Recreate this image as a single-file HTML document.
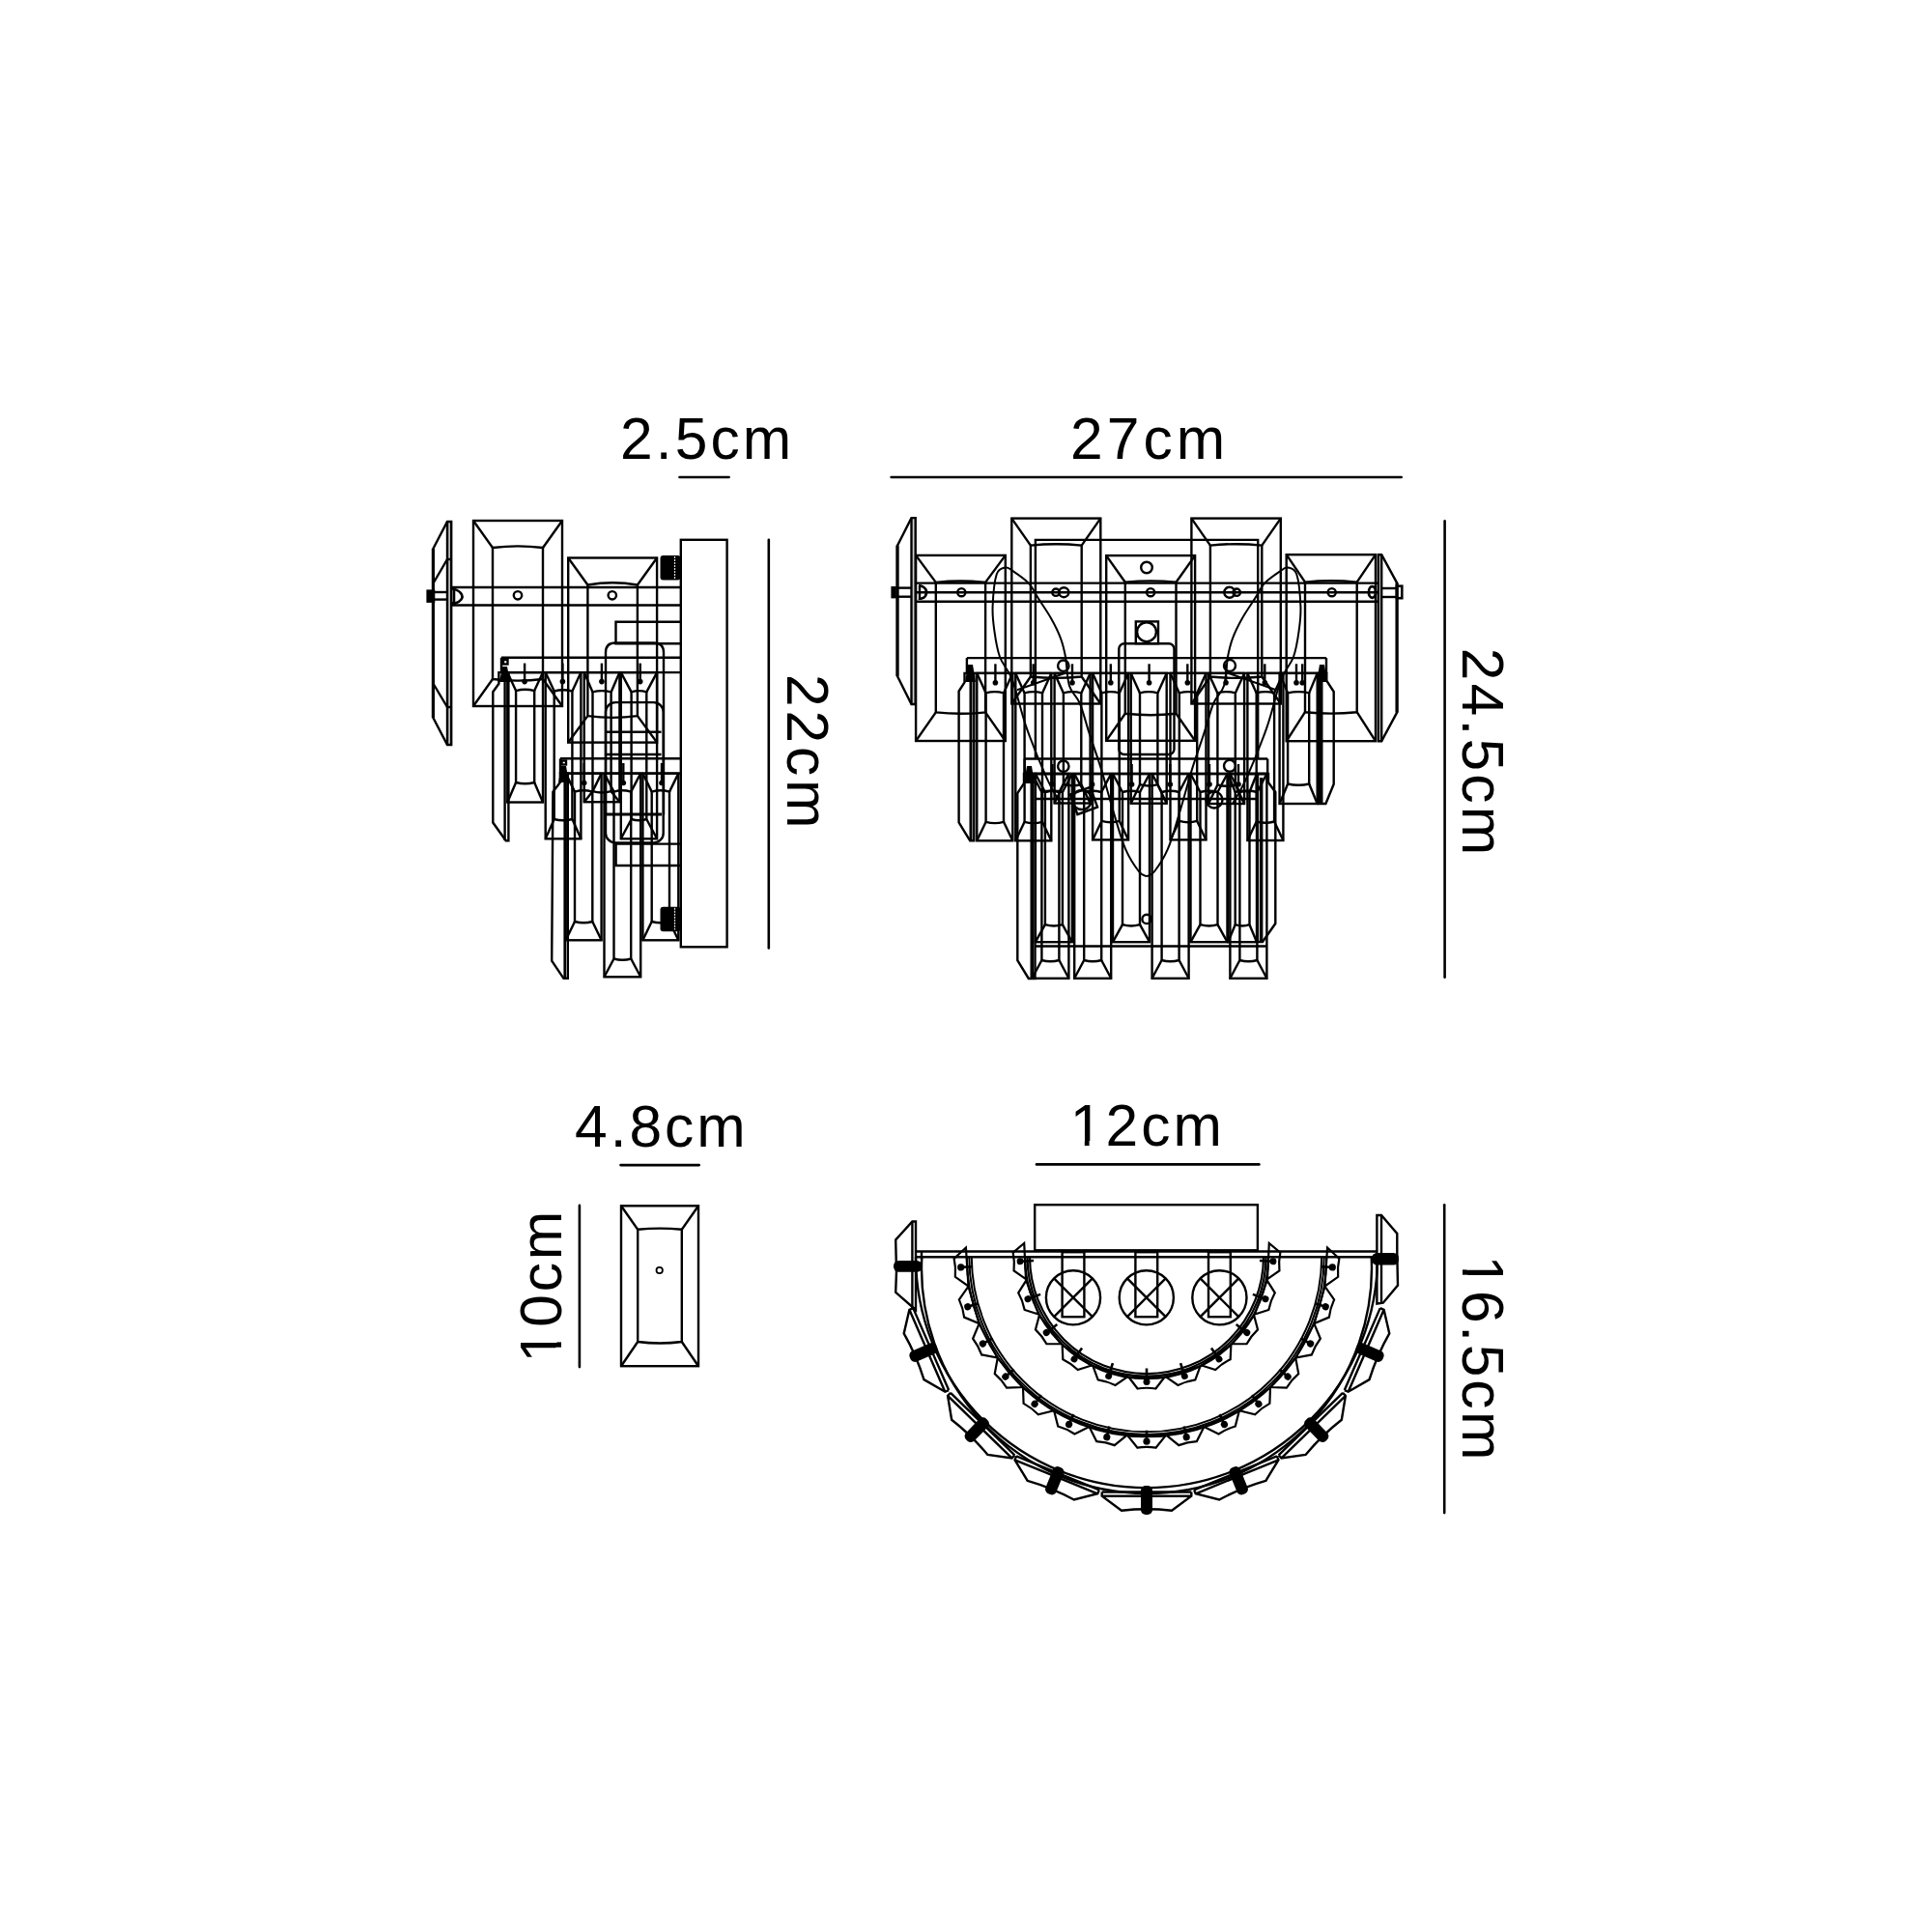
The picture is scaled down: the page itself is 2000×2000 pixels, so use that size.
<!DOCTYPE html>
<html><head><meta charset="utf-8"><style>
html,body{margin:0;padding:0;background:#fff;width:2000px;height:2000px;overflow:hidden}
svg{display:block}
text{font-family:"Liberation Sans",sans-serif;fill:#000}
</style></head><body>
<svg width="2000" height="2000" viewBox="0 0 2000 2000">
<rect x="0" y="0" width="2000" height="2000" fill="#fff"/>
<g fill="none" stroke="#000" stroke-width="2.4" stroke-linejoin="miter" stroke-linecap="butt">
<g class="dim" stroke-width="2.6" stroke-linecap="round">
<line x1="703.5" y1="494.0" x2="754.6" y2="494.0"/>
<line x1="922.6" y1="494.0" x2="1450.7" y2="494.0"/>
<line x1="795.8" y1="558.8" x2="795.8" y2="981.5"/>
<line x1="1495.6" y1="539.4" x2="1495.6" y2="1011.7"/>
<line x1="642.5" y1="1206.1" x2="723.7" y2="1206.1"/>
<line x1="599.9" y1="1247.9" x2="599.9" y2="1415.1"/>
<line x1="1073.0" y1="1205.4" x2="1303.4" y2="1205.4"/>
<line x1="1495.2" y1="1247.2" x2="1495.2" y2="1566.1"/>
</g>
<g class="txt" stroke="none" fill="#000">
<text x="642" y="475" font-size="60.5" letter-spacing="3.1" text-anchor="start">2.5cm</text>
<text x="1108" y="475" font-size="60.5" letter-spacing="4.1" text-anchor="start">27cm</text>
<text x="595" y="1186.5" font-size="60.5" letter-spacing="3.0" text-anchor="start">4.8cm</text>
<text x="1107.7" y="1186" font-size="60.5" letter-spacing="3.1" text-anchor="start">12cm</text>
<text x="814.5" y="698" font-size="60.5" letter-spacing="3.8" text-anchor="start" transform="rotate(90 814.5 698)">22cm</text>
<text x="1513.8" y="670.7" font-size="60.5" letter-spacing="3.2" text-anchor="start" transform="rotate(90 1513.8 670.7)">24.5cm</text>
<text x="1513.7" y="1299.6" font-size="60.5" letter-spacing="2.7" text-anchor="start" transform="rotate(90 1513.7 1299.6)">16.5cm</text>
<text x="581.2" y="1410.4" font-size="60.5" letter-spacing="2.9" text-anchor="start" transform="rotate(-90 581.2 1410.4)">10cm</text>
<rect x="1110.5" y="1181" width="12.3" height="6.5" fill="#fff"/>
<rect x="1127.6" y="1181" width="11.5" height="6.5" fill="#fff"/>
<rect x="575.3" y="1378" width="7" height="11.4" fill="#fff"/>
<rect x="575.3" y="1394.7" width="7" height="12" fill="#fff"/>
<rect x="1512" y="1302" width="7.4" height="12.4" fill="#fff"/>
<rect x="1512" y="1319.7" width="7.4" height="11.5" fill="#fff"/>
</g>
<rect x="643.0" y="1248.3" width="80.0" height="165.9"/>
<path d="M660.2,1389.0 L660.2,1272.8 Q683.0,1270.4 705.8,1272.8 L705.8,1389.0 Q683.0,1392.0 660.2,1389.0Z"/>
<line x1="643.0" y1="1248.3" x2="660.2" y2="1272.8"/>
<line x1="723.0" y1="1248.3" x2="705.8" y2="1272.8"/>
<line x1="643.0" y1="1414.2" x2="660.2" y2="1389.0"/>
<line x1="723.0" y1="1414.2" x2="705.8" y2="1389.0"/>
<circle cx="682.7" cy="1315.0" r="3.2" stroke-width="1.8"/>
<rect x="704.8" y="558.8" width="47.8" height="421.5"/>
<rect x="683.5" y="575.0" width="21" height="25.4" rx="3" fill="#000" stroke="none"/>
<line x1="698.6" y1="576.0" x2="698.6" y2="599.4" stroke="#fff" stroke-width="1.0" stroke-dasharray="2 1"/>
<rect x="683.5" y="938.8" width="21" height="25.4" rx="3" fill="#000" stroke="none"/>
<line x1="698.6" y1="939.8" x2="698.6" y2="963.1999999999999" stroke="#fff" stroke-width="1.0" stroke-dasharray="2 1"/>
<line x1="465.0" y1="608.0" x2="705.0" y2="608.0"/>
<line x1="465.0" y1="626.5" x2="705.0" y2="626.5"/>
<circle cx="536.0" cy="616.3" r="4.2"/>
<circle cx="633.8" cy="616.3" r="4.2"/>
<rect x="441.4" y="610.4" width="8.9" height="13.5" fill="#000" stroke="none"/>
<line x1="450.0" y1="613.0" x2="463.0" y2="613.0"/>
<line x1="450.0" y1="620.6" x2="463.0" y2="620.6"/>
<path d="M467,609.5 C476,610 481,617 477,621 C474,625 469,625 467,624" stroke-width="2.6"/>
<line x1="470.0" y1="610.0" x2="470.0" y2="624.0" stroke-width="2.6"/>
<rect x="463" y="540" width="4.2" height="231" fill="#bbb" stroke="none"/>
<polygon points="463.0,540.0 467.2,540.0 467.2,771.0 463.0,771.0 448.4,743.0 448.4,568.0" stroke-width="2.4"/>
<line x1="463.0" y1="540.0" x2="463.0" y2="771.0"/>
<line x1="448.4" y1="604.0" x2="463.0" y2="579.0"/>
<line x1="448.4" y1="707.5" x2="463.0" y2="732.0"/>
<line x1="463.0" y1="579.0" x2="467.2" y2="579.0"/>
<line x1="463.0" y1="732.0" x2="467.2" y2="732.0"/>
<line x1="448.4" y1="568.0" x2="448.4" y2="743.0" stroke-width="3.2"/>
<rect x="490.0" y="539.0" width="92.0" height="192.0"/>
<path d="M510.0,703.0 L510.0,567.0 Q536.0,563.8 562.0,567.0 L562.0,703.0 Q536.0,706.2 510.0,703.0Z"/>
<line x1="490.0" y1="539.0" x2="510.0" y2="567.0"/>
<line x1="582.0" y1="539.0" x2="562.0" y2="567.0"/>
<line x1="490.0" y1="731.0" x2="510.0" y2="703.0"/>
<line x1="582.0" y1="731.0" x2="562.0" y2="703.0"/>
<rect x="588.2" y="577.5" width="91.9" height="191.1"/>
<path d="M608.4,741.1 L608.4,605.5 Q634.2,600.9 659.9,605.5 L659.9,741.1 Q634.2,744.7 608.4,741.1Z"/>
<line x1="588.2" y1="577.5" x2="608.4" y2="605.5"/>
<line x1="680.1" y1="577.5" x2="659.9" y2="605.5"/>
<line x1="588.2" y1="768.6" x2="608.4" y2="741.1"/>
<line x1="680.1" y1="768.6" x2="659.9" y2="741.1"/>
<line x1="519.0" y1="680.8" x2="705.0" y2="680.8"/>
<line x1="519.0" y1="696.1" x2="705.0" y2="696.1"/>
<line x1="519.0" y1="680.8" x2="519.0" y2="696.1"/>
<rect x="521.0" y="683.0" width="4.5" height="4.5"/>
<polyline points="705.0,643.7 637.5,643.7 637.5,666.2 705.0,666.2"/>
<path d="M627,843.8 L627,675.5 Q627,665.5 637,665.5 L677,665.5 Q687,665.5 687,675.5 L687,843.8"/>
<rect x="627" y="727.1" width="59.7" height="145.3" rx="10"/>
<line x1="627.0" y1="757.8" x2="684.5" y2="757.8"/>
<line x1="627.0" y1="781.0" x2="684.5" y2="781.0"/>
<line x1="627.0" y1="843.0" x2="685.0" y2="843.0" stroke-width="2.8"/>
<polyline points="705.0,873.6 637.6,873.6 637.6,896.0 705.0,896.0"/>
<line x1="580.0" y1="785.3" x2="705.0" y2="785.3"/>
<line x1="580.0" y1="800.6" x2="705.0" y2="800.6"/>
<line x1="580.0" y1="785.3" x2="580.0" y2="800.6"/>
<rect x="581.5" y="787.5" width="4.5" height="4.0"/>
<rect x="521.4" y="700" width="2.4" height="170" fill="#000" stroke="none"/>
<polygon points="510.3,716.2 516.4,707.8 516.4,696.1 526.4,696.1 526.4,870.3 523.7,870.3 510.3,851.5" stroke-width="2.4"/>
<path d="M517,706 L520,690 L525,690 L528,706Z" fill="#000" stroke="none"/>
<rect x="525.3" y="696.1" width="36.7" height="134.4"/>
<path d="M534.1,810.0 L534.1,715.1 Q543.6,712.5 553.2,715.1 L553.2,810.0 Q543.6,812.6 534.1,810.0Z"/>
<line x1="525.3" y1="696.1" x2="534.1" y2="715.1"/>
<line x1="562.0" y1="696.1" x2="553.2" y2="715.1"/>
<line x1="525.3" y1="830.5" x2="534.1" y2="810.0"/>
<line x1="562.0" y1="830.5" x2="553.2" y2="810.0"/>
<rect x="564.7" y="696.1" width="36.7" height="172.2"/>
<path d="M573.7,848.0 L573.7,715.5 Q583.0,712.9 592.4,715.5 L592.4,848.0 Q583.0,850.6 573.7,848.0Z"/>
<line x1="564.7" y1="696.1" x2="573.7" y2="715.5"/>
<line x1="601.4" y1="696.1" x2="592.4" y2="715.5"/>
<line x1="564.7" y1="868.3" x2="573.7" y2="848.0"/>
<line x1="601.4" y1="868.3" x2="592.4" y2="848.0"/>
<rect x="604.7" y="696.1" width="36.7" height="134.1"/>
<path d="M613.5,819.2 L613.5,716.4 Q623.0,713.8 632.6,716.4 L632.6,819.2 Q623.0,821.8 613.5,819.2Z"/>
<line x1="604.7" y1="696.1" x2="613.5" y2="716.4"/>
<line x1="641.4" y1="696.1" x2="632.6" y2="716.4"/>
<line x1="604.7" y1="830.2" x2="613.5" y2="819.2"/>
<line x1="641.4" y1="830.2" x2="632.6" y2="819.2"/>
<rect x="642.8" y="696.1" width="37.3" height="172.2"/>
<path d="M653.6,848.0 L653.6,716.4 Q661.5,713.8 669.3,716.4 L669.3,848.0 Q661.5,850.6 653.6,848.0Z"/>
<line x1="642.8" y1="696.1" x2="653.6" y2="716.4"/>
<line x1="680.1" y1="696.1" x2="669.3" y2="716.4"/>
<line x1="642.8" y1="868.3" x2="653.6" y2="848.0"/>
<line x1="680.1" y1="868.3" x2="669.3" y2="848.0"/>
<line x1="543.1" y1="686.6" x2="543.1" y2="705.6"/>
<circle cx="543.1" cy="705.6" r="2.8" fill="#000" stroke="none"/>
<line x1="582.4" y1="686.6" x2="582.4" y2="705.6"/>
<circle cx="582.4" cy="705.6" r="2.8" fill="#000" stroke="none"/>
<line x1="622.9" y1="686.6" x2="622.9" y2="705.6"/>
<circle cx="622.9" cy="705.6" r="2.8" fill="#000" stroke="none"/>
<line x1="662.7" y1="686.6" x2="662.7" y2="705.6"/>
<circle cx="662.7" cy="705.6" r="2.8" fill="#000" stroke="none"/>
<rect x="583.4" y="805" width="2.6" height="207" fill="#000" stroke="none"/>
<polygon points="572.4,819.8 579.9,809.9 579.9,800.6 587.8,800.6 587.8,1012.8 583.5,1012.8 571.2,994.6" stroke-width="2.4"/>
<path d="M578,810 L581,793 L586,793 L589,810Z" fill="#000" stroke="none"/>
<rect x="585.7" y="800.6" width="36.9" height="172.7"/>
<path d="M595.0,954.0 L595.0,819.6 Q604.2,817.0 613.3,819.6 L613.3,954.0 Q604.2,956.6 595.0,954.0Z"/>
<line x1="585.7" y1="800.6" x2="595.0" y2="819.6"/>
<line x1="622.6" y1="800.6" x2="613.3" y2="819.6"/>
<line x1="585.7" y1="973.3" x2="595.0" y2="954.0"/>
<line x1="622.6" y1="973.3" x2="613.3" y2="954.0"/>
<rect x="625.5" y="800.6" width="37.7" height="210.7"/>
<path d="M635.5,992.5 L635.5,819.6 Q644.4,817.0 653.2,819.6 L653.2,992.5 Q644.4,995.1 635.5,992.5Z"/>
<line x1="625.5" y1="800.6" x2="635.5" y2="819.6"/>
<line x1="663.2" y1="800.6" x2="653.2" y2="819.6"/>
<line x1="625.5" y1="1011.3" x2="635.5" y2="992.5"/>
<line x1="663.2" y1="1011.3" x2="653.2" y2="992.5"/>
<rect x="665.4" y="800.6" width="36.9" height="172.7"/>
<path d="M674.7,954.0 L674.7,819.6 Q683.8,817.0 693.0,819.6 L693.0,954.0 Q683.8,956.6 674.7,954.0Z"/>
<line x1="665.4" y1="800.6" x2="674.7" y2="819.6"/>
<line x1="702.3" y1="800.6" x2="693.0" y2="819.6"/>
<line x1="665.4" y1="973.3" x2="674.7" y2="954.0"/>
<line x1="702.3" y1="973.3" x2="693.0" y2="954.0"/>
<line x1="604.7" y1="790.0" x2="604.7" y2="810.5"/>
<circle cx="604.7" cy="810.5" r="2.8" fill="#000" stroke="none"/>
<line x1="645.3" y1="790.0" x2="645.3" y2="810.5"/>
<circle cx="645.3" cy="810.5" r="2.8" fill="#000" stroke="none"/>
<line x1="685.0" y1="790.0" x2="685.0" y2="810.5"/>
<circle cx="685.0" cy="810.5" r="2.8" fill="#000" stroke="none"/>
<rect x="943.5" y="536.1" width="4.2" height="193" fill="#ccc" stroke="none"/>
<polygon points="943.5,536.1 947.7,536.1 947.7,729.0 943.5,729.0 929.0,700.0 929.0,564.7" stroke-width="2.4"/>
<line x1="943.5" y1="536.1" x2="943.5" y2="729.0"/>
<line x1="929.0" y1="564.7" x2="929.0" y2="700.0" stroke-width="3.2"/>
<rect x="1426.8" y="574.2" width="3.4" height="193" fill="#ccc" stroke="none"/>
<polygon points="1430.2,574.2 1426.8,574.2 1426.8,767.2 1430.2,767.2 1446.1,737.6 1446.1,603.3" stroke-width="2.4"/>
<line x1="1430.2" y1="574.2" x2="1430.2" y2="767.2"/>
<line x1="1446.1" y1="603.3" x2="1446.1" y2="737.6" stroke-width="3.2"/>
<rect x="922.4" y="607" width="5.4" height="12.4" fill="#000" stroke="none"/>
<line x1="927.8" y1="608.6" x2="943.5" y2="608.6"/>
<line x1="927.8" y1="617.7" x2="943.5" y2="617.7"/>
<path d="M951,606 C958,607 961,612 958,617 C956,620 952,620 951,619.4" stroke-width="2.6"/>
<line x1="952.0" y1="606.5" x2="952.0" y2="619.4" stroke-width="2.4"/>
<rect x="1446" y="606.7" width="5.3" height="12.5" fill="none" stroke-width="2.6"/>
<ellipse cx="1420.5" cy="613" rx="3.6" ry="5.8" fill="none" stroke-width="2.8"/>
<line x1="1430.2" y1="609.0" x2="1446.0" y2="609.0"/>
<line x1="1430.2" y1="618.0" x2="1446.0" y2="618.0"/>
<line x1="948.0" y1="603.6" x2="1426.8" y2="603.6"/>
<line x1="948.0" y1="613.2" x2="1426.8" y2="613.2"/>
<line x1="948.0" y1="622.7" x2="1426.8" y2="622.7"/>
<circle cx="995.3" cy="613.2" r="4.1"/>
<circle cx="1093.0" cy="613.2" r="3.7"/>
<circle cx="1101.3" cy="613.2" r="5.0"/>
<circle cx="1191.1" cy="613.2" r="4.1"/>
<circle cx="1272.8" cy="613.2" r="5.5"/>
<circle cx="1280.2" cy="613.2" r="3.7"/>
<circle cx="1378.7" cy="613.2" r="4.1"/>
<rect x="948.1" y="574.9" width="92.7" height="192.1"/>
<path d="M968.8,737.4 L968.8,602.9 Q994.5,600.1 1020.1,602.9 L1020.1,737.4 Q994.5,740.2 968.8,737.4Z"/>
<line x1="948.1" y1="574.9" x2="968.8" y2="602.9"/>
<line x1="1040.8" y1="574.9" x2="1020.1" y2="602.9"/>
<line x1="948.1" y1="767.0" x2="968.8" y2="737.4"/>
<line x1="1040.8" y1="767.0" x2="1020.1" y2="737.4"/>
<rect x="1331.7" y="574.2" width="92.3" height="193.0"/>
<path d="M1351.0,737.2 L1351.0,602.7 Q1377.8,599.9 1404.7,602.7 L1404.7,737.2 Q1377.8,740.0 1351.0,737.2Z"/>
<line x1="1331.7" y1="574.2" x2="1351.0" y2="602.7"/>
<line x1="1424.0" y1="574.2" x2="1404.7" y2="602.7"/>
<line x1="1331.7" y1="767.2" x2="1351.0" y2="737.2"/>
<line x1="1424.0" y1="767.2" x2="1404.7" y2="737.2"/>
<rect x="1047.3" y="536.6" width="92.0" height="191.9"/>
<path d="M1066.9,700.5 L1066.9,564.6 Q1093.3,561.8 1119.7,564.6 L1119.7,700.5 Q1093.3,703.3 1066.9,700.5Z"/>
<line x1="1047.3" y1="536.6" x2="1066.9" y2="564.6"/>
<line x1="1139.3" y1="536.6" x2="1119.7" y2="564.6"/>
<line x1="1047.3" y1="728.5" x2="1066.9" y2="700.5"/>
<line x1="1139.3" y1="728.5" x2="1119.7" y2="700.5"/>
<rect x="1233.4" y="536.6" width="92.4" height="191.9"/>
<path d="M1252.9,700.5 L1252.9,564.6 Q1279.6,561.8 1306.3,564.6 L1306.3,700.5 Q1279.6,703.3 1252.9,700.5Z"/>
<line x1="1233.4" y1="536.6" x2="1252.9" y2="564.6"/>
<line x1="1325.8" y1="536.6" x2="1306.3" y2="564.6"/>
<line x1="1233.4" y1="728.5" x2="1252.9" y2="700.5"/>
<line x1="1325.8" y1="728.5" x2="1306.3" y2="700.5"/>
<polyline points="1071.9,785.5 1071.9,558.9 1302.2,558.9 1302.2,785.5"/>
<rect x="1145.2" y="575.1" width="91.9" height="191.7"/>
<path d="M1164.8,738.8 L1164.8,602.8 Q1191.2,600.0 1217.5,602.8 L1217.5,738.8 Q1191.2,741.6 1164.8,738.8Z"/>
<line x1="1145.2" y1="575.1" x2="1164.8" y2="602.8"/>
<line x1="1237.1" y1="575.1" x2="1217.5" y2="602.8"/>
<line x1="1145.2" y1="766.8" x2="1164.8" y2="738.8"/>
<line x1="1237.1" y1="766.8" x2="1217.5" y2="738.8"/>
<circle cx="1187.0" cy="587.5" r="5.8"/>
<rect x="1175.8" y="643.4" width="23.2" height="22.8"/>
<circle cx="1187.0" cy="654.2" r="9.9"/>
<rect x="1158.3" y="666.2" width="57.2" height="114.8" rx="5.5"/>
<line x1="1000.9" y1="681.1" x2="1373.0" y2="681.1"/>
<line x1="1000.9" y1="696.9" x2="1373.0" y2="696.9"/>
<line x1="1000.9" y1="681.1" x2="1000.9" y2="696.9"/>
<line x1="1373.0" y1="681.1" x2="1373.0" y2="696.9"/>
<circle cx="1100.8" cy="689.2" r="5.7"/>
<circle cx="1273.0" cy="689.0" r="6.0"/>
<rect x="1011.3" y="696.9" width="37.0" height="173.4"/>
<path d="M1020.6,850.8 L1020.6,717.4 Q1029.8,714.8 1039.0,717.4 L1039.0,850.8 Q1029.8,853.4 1020.6,850.8Z"/>
<line x1="1011.3" y1="696.9" x2="1020.6" y2="717.4"/>
<line x1="1048.3" y1="696.9" x2="1039.0" y2="717.4"/>
<line x1="1011.3" y1="870.3" x2="1020.6" y2="850.8"/>
<line x1="1048.3" y1="870.3" x2="1039.0" y2="850.8"/>
<rect x="1051.3" y="696.9" width="37.0" height="173.4"/>
<path d="M1060.6,850.8 L1060.6,717.4 Q1069.8,714.8 1079.0,717.4 L1079.0,850.8 Q1069.8,853.4 1060.6,850.8Z"/>
<line x1="1051.3" y1="696.9" x2="1060.6" y2="717.4"/>
<line x1="1088.3" y1="696.9" x2="1079.0" y2="717.4"/>
<line x1="1051.3" y1="870.3" x2="1060.6" y2="850.8"/>
<line x1="1088.3" y1="870.3" x2="1079.0" y2="850.8"/>
<rect x="1091.6" y="696.9" width="37.0" height="134.6"/>
<path d="M1100.9,812.0 L1100.9,717.4 Q1110.1,714.8 1119.3,717.4 L1119.3,812.0 Q1110.1,814.6 1100.9,812.0Z"/>
<line x1="1091.6" y1="696.9" x2="1100.9" y2="717.4"/>
<line x1="1128.6" y1="696.9" x2="1119.3" y2="717.4"/>
<line x1="1091.6" y1="831.5" x2="1100.9" y2="812.0"/>
<line x1="1128.6" y1="831.5" x2="1119.3" y2="812.0"/>
<rect x="1131.1" y="696.9" width="37.0" height="172.5"/>
<path d="M1140.4,849.9 L1140.4,717.4 Q1149.6,714.8 1158.8,717.4 L1158.8,849.9 Q1149.6,852.5 1140.4,849.9Z"/>
<line x1="1131.1" y1="696.9" x2="1140.4" y2="717.4"/>
<line x1="1168.1" y1="696.9" x2="1158.8" y2="717.4"/>
<line x1="1131.1" y1="869.4" x2="1140.4" y2="849.9"/>
<line x1="1168.1" y1="869.4" x2="1158.8" y2="849.9"/>
<rect x="1170.7" y="696.9" width="37.0" height="134.8"/>
<path d="M1180.0,812.2 L1180.0,717.4 Q1189.2,714.8 1198.4,717.4 L1198.4,812.2 Q1189.2,814.8 1180.0,812.2Z"/>
<line x1="1170.7" y1="696.9" x2="1180.0" y2="717.4"/>
<line x1="1207.7" y1="696.9" x2="1198.4" y2="717.4"/>
<line x1="1170.7" y1="831.7" x2="1180.0" y2="812.2"/>
<line x1="1207.7" y1="831.7" x2="1198.4" y2="812.2"/>
<rect x="1211.5" y="696.9" width="37.0" height="172.5"/>
<path d="M1220.8,849.9 L1220.8,717.4 Q1230.0,714.8 1239.2,717.4 L1239.2,849.9 Q1230.0,852.5 1220.8,849.9Z"/>
<line x1="1211.5" y1="696.9" x2="1220.8" y2="717.4"/>
<line x1="1248.5" y1="696.9" x2="1239.2" y2="717.4"/>
<line x1="1211.5" y1="869.4" x2="1220.8" y2="849.9"/>
<line x1="1248.5" y1="869.4" x2="1239.2" y2="849.9"/>
<rect x="1251.1" y="696.9" width="37.0" height="135.1"/>
<path d="M1260.4,812.5 L1260.4,717.4 Q1269.6,714.8 1278.8,717.4 L1278.8,812.5 Q1269.6,815.1 1260.4,812.5Z"/>
<line x1="1251.1" y1="696.9" x2="1260.4" y2="717.4"/>
<line x1="1288.1" y1="696.9" x2="1278.8" y2="717.4"/>
<line x1="1251.1" y1="832.0" x2="1260.4" y2="812.5"/>
<line x1="1288.1" y1="832.0" x2="1278.8" y2="812.5"/>
<rect x="1291.4" y="696.9" width="37.0" height="173.1"/>
<path d="M1300.7,850.5 L1300.7,717.4 Q1309.9,714.8 1319.1,717.4 L1319.1,850.5 Q1309.9,853.1 1300.7,850.5Z"/>
<line x1="1291.4" y1="696.9" x2="1300.7" y2="717.4"/>
<line x1="1328.4" y1="696.9" x2="1319.1" y2="717.4"/>
<line x1="1291.4" y1="870.0" x2="1300.7" y2="850.5"/>
<line x1="1328.4" y1="870.0" x2="1319.1" y2="850.5"/>
<rect x="1324.6" y="696.9" width="39.1" height="135.1"/>
<path d="M1333.1,811.5 L1333.1,717.4 Q1344.2,714.8 1355.2,717.4 L1355.2,811.5 Q1344.2,814.1 1333.1,811.5Z"/>
<line x1="1324.6" y1="696.9" x2="1333.1" y2="717.4"/>
<line x1="1363.7" y1="696.9" x2="1355.2" y2="717.4"/>
<line x1="1324.6" y1="832.0" x2="1333.1" y2="811.5"/>
<line x1="1363.7" y1="832.0" x2="1355.2" y2="811.5"/>
<line x1="1030.4" y1="687.3" x2="1030.4" y2="706.8"/>
<circle cx="1030.4" cy="706.8" r="2.8" fill="#000" stroke="none"/>
<line x1="1069.7" y1="687.3" x2="1069.7" y2="706.8"/>
<circle cx="1069.7" cy="706.8" r="2.8" fill="#000" stroke="none"/>
<line x1="1110.0" y1="687.3" x2="1110.0" y2="706.8"/>
<circle cx="1110.0" cy="706.8" r="2.8" fill="#000" stroke="none"/>
<line x1="1149.8" y1="687.3" x2="1149.8" y2="706.8"/>
<circle cx="1149.8" cy="706.8" r="2.8" fill="#000" stroke="none"/>
<line x1="1189.6" y1="687.3" x2="1189.6" y2="706.8"/>
<circle cx="1189.6" cy="706.8" r="2.8" fill="#000" stroke="none"/>
<line x1="1229.3" y1="687.3" x2="1229.3" y2="706.8"/>
<circle cx="1229.3" cy="706.8" r="2.8" fill="#000" stroke="none"/>
<line x1="1269.1" y1="687.3" x2="1269.1" y2="706.8"/>
<circle cx="1269.1" cy="706.8" r="2.8" fill="#000" stroke="none"/>
<line x1="1309.3" y1="687.3" x2="1309.3" y2="706.8"/>
<circle cx="1309.3" cy="706.8" r="2.8" fill="#000" stroke="none"/>
<line x1="1342.0" y1="687.3" x2="1342.0" y2="706.8"/>
<circle cx="1342.0" cy="706.8" r="2.8" fill="#000" stroke="none"/>
<line x1="1348.2" y1="687.3" x2="1348.2" y2="706.8"/>
<circle cx="1348.2" cy="706.8" r="2.8" fill="#000" stroke="none"/>
<rect x="1003.5" y="700" width="3" height="170" fill="#000" stroke="none"/>
<polygon points="992.6,715.5 998.5,706.5 998.5,696.9 1008.3,696.9 1008.3,870.3 1004.2,870.3 992.6,851.5" stroke-width="2.4"/>
<path d="M999,706 L1002,688 L1007,688 L1010,706Z" fill="#000" stroke="none"/>
<rect x="1365.5" y="700" width="4" height="132" fill="#000" stroke="none"/>
<polygon points="1380.7,716.0 1373.3,704.6 1373.3,696.9 1364.8,696.9 1364.8,832.0 1372.4,832.0 1380.7,811.8" stroke-width="2.4"/>
<path d="M1363,706 L1366,688 L1371,688 L1374,706Z" fill="#000" stroke="none"/>
<line x1="1060.7" y1="785.5" x2="1312.2" y2="785.5"/>
<line x1="1060.7" y1="801.0" x2="1312.2" y2="801.0"/>
<line x1="1060.7" y1="785.5" x2="1060.7" y2="801.0"/>
<line x1="1312.2" y1="785.5" x2="1312.2" y2="801.0"/>
<circle cx="1100.8" cy="793.2" r="5.7"/>
<circle cx="1273.0" cy="792.8" r="6.0"/>
<line x1="1071.9" y1="827.0" x2="1302.2" y2="827.0"/>
<line x1="1071.0" y1="979.5" x2="1311.0" y2="979.5"/>
<rect x="1071.9" y="801.0" width="38.0" height="174.2"/>
<path d="M1081.9,957.2 L1081.9,820.0 Q1090.9,817.4 1099.9,820.0 L1099.9,957.2 Q1090.9,959.8 1081.9,957.2Z"/>
<line x1="1071.9" y1="801.0" x2="1081.9" y2="820.0"/>
<line x1="1109.9" y1="801.0" x2="1099.9" y2="820.0"/>
<line x1="1071.9" y1="975.2" x2="1081.9" y2="957.2"/>
<line x1="1109.9" y1="975.2" x2="1099.9" y2="957.2"/>
<rect x="1152.0" y="801.0" width="38.0" height="174.2"/>
<path d="M1162.0,957.2 L1162.0,820.0 Q1171.0,817.4 1180.0,820.0 L1180.0,957.2 Q1171.0,959.8 1162.0,957.2Z"/>
<line x1="1152.0" y1="801.0" x2="1162.0" y2="820.0"/>
<line x1="1190.0" y1="801.0" x2="1180.0" y2="820.0"/>
<line x1="1152.0" y1="975.2" x2="1162.0" y2="957.2"/>
<line x1="1190.0" y1="975.2" x2="1180.0" y2="957.2"/>
<rect x="1232.5" y="801.0" width="38.0" height="174.2"/>
<path d="M1242.5,957.2 L1242.5,820.0 Q1251.5,817.4 1260.5,820.0 L1260.5,957.2 Q1251.5,959.8 1242.5,957.2Z"/>
<line x1="1232.5" y1="801.0" x2="1242.5" y2="820.0"/>
<line x1="1270.5" y1="801.0" x2="1260.5" y2="820.0"/>
<line x1="1232.5" y1="975.2" x2="1242.5" y2="957.2"/>
<line x1="1270.5" y1="975.2" x2="1260.5" y2="957.2"/>
<rect x="1271.2" y="801.0" width="29.8" height="174.2"/>
<path d="M1278.7,957.2 L1278.7,820.0 Q1286.1,817.4 1293.5,820.0 L1293.5,957.2 Q1286.1,959.8 1278.7,957.2Z"/>
<line x1="1271.2" y1="801.0" x2="1278.7" y2="820.0"/>
<line x1="1301.0" y1="801.0" x2="1293.5" y2="820.0"/>
<line x1="1271.2" y1="975.2" x2="1278.7" y2="957.2"/>
<line x1="1301.0" y1="975.2" x2="1293.5" y2="957.2"/>
<rect x="1068.4" y="801.0" width="38.0" height="211.8"/>
<path d="M1078.4,994.0 L1078.4,820.0 Q1087.4,817.4 1096.4,820.0 L1096.4,994.0 Q1087.4,996.6 1078.4,994.0Z"/>
<line x1="1068.4" y1="801.0" x2="1078.4" y2="820.0"/>
<line x1="1106.4" y1="801.0" x2="1096.4" y2="820.0"/>
<line x1="1068.4" y1="1012.8" x2="1078.4" y2="994.0"/>
<line x1="1106.4" y1="1012.8" x2="1096.4" y2="994.0"/>
<rect x="1112.2" y="801.0" width="38.0" height="211.8"/>
<path d="M1122.2,994.0 L1122.2,820.0 Q1131.2,817.4 1140.2,820.0 L1140.2,994.0 Q1131.2,996.6 1122.2,994.0Z"/>
<line x1="1112.2" y1="801.0" x2="1122.2" y2="820.0"/>
<line x1="1150.2" y1="801.0" x2="1140.2" y2="820.0"/>
<line x1="1112.2" y1="1012.8" x2="1122.2" y2="994.0"/>
<line x1="1150.2" y1="1012.8" x2="1140.2" y2="994.0"/>
<rect x="1192.6" y="801.0" width="38.0" height="211.8"/>
<path d="M1202.6,994.0 L1202.6,820.0 Q1211.6,817.4 1220.6,820.0 L1220.6,994.0 Q1211.6,996.6 1202.6,994.0Z"/>
<line x1="1192.6" y1="801.0" x2="1202.6" y2="820.0"/>
<line x1="1230.6" y1="801.0" x2="1220.6" y2="820.0"/>
<line x1="1192.6" y1="1012.8" x2="1202.6" y2="994.0"/>
<line x1="1230.6" y1="1012.8" x2="1220.6" y2="994.0"/>
<rect x="1273.4" y="801.0" width="38.0" height="211.8"/>
<path d="M1283.4,994.0 L1283.4,820.0 Q1292.4,817.4 1301.4,820.0 L1301.4,994.0 Q1292.4,996.6 1283.4,994.0Z"/>
<line x1="1273.4" y1="801.0" x2="1283.4" y2="820.0"/>
<line x1="1311.4" y1="801.0" x2="1301.4" y2="820.0"/>
<line x1="1273.4" y1="1012.8" x2="1283.4" y2="994.0"/>
<line x1="1311.4" y1="1012.8" x2="1301.4" y2="994.0"/>
<line x1="1089.5" y1="791.0" x2="1089.5" y2="812.0"/>
<circle cx="1089.5" cy="812.0" r="2.8" fill="#000" stroke="none"/>
<line x1="1130.6" y1="791.0" x2="1130.6" y2="812.0"/>
<circle cx="1130.6" cy="812.0" r="2.8" fill="#000" stroke="none"/>
<line x1="1171.6" y1="791.0" x2="1171.6" y2="812.0"/>
<circle cx="1171.6" cy="812.0" r="2.8" fill="#000" stroke="none"/>
<line x1="1211.3" y1="791.0" x2="1211.3" y2="812.0"/>
<circle cx="1211.3" cy="812.0" r="2.8" fill="#000" stroke="none"/>
<line x1="1252.0" y1="791.0" x2="1252.0" y2="812.0"/>
<circle cx="1252.0" cy="812.0" r="2.8" fill="#000" stroke="none"/>
<line x1="1282.0" y1="791.0" x2="1282.0" y2="812.0"/>
<circle cx="1282.0" cy="812.0" r="2.8" fill="#000" stroke="none"/>
<rect x="1066.5" y="805" width="3.6" height="208" fill="#000" stroke="none"/>
<polygon points="1053.3,821.2 1060.0,811.0 1060.0,801.0 1071.5,801.0 1071.5,1013.0 1064.8,1013.0 1053.3,994.2" stroke-width="2.4"/>
<path d="M1060,811 L1063,793 L1068,793 L1071,811Z" fill="#000" stroke="none"/>
<rect x="1304" y="805" width="3.4" height="170" fill="#000" stroke="none"/>
<polygon points="1320.3,820.0 1313.0,810.0 1313.0,801.0 1302.0,801.0 1302.0,975.0 1307.0,975.0 1320.3,956.0" stroke-width="2.4"/>
<circle cx="1187.1" cy="951.4" r="4.7"/>
<path d="M1098.0,832.0 C1095.5,827.4 1089.1,817.8 1083.2,804.6 C1077.3,791.4 1068.4,769.6 1062.5,752.8 C1056.6,736.0 1052.6,716.1 1048.0,704.0 C1043.4,691.9 1038.1,688.6 1035.0,680.0 C1031.9,671.4 1030.5,661.2 1029.3,652.5 C1028.1,643.8 1027.2,637.4 1027.6,627.7 C1028.0,618.0 1029.5,601.2 1031.7,594.5 C1033.9,587.8 1038.2,588.2 1040.8,587.5 C1043.4,586.8 1043.5,587.7 1047.5,590.4 C1051.5,593.1 1060.2,598.8 1064.8,603.6 C1069.3,608.4 1070.9,613.3 1074.8,619.4 C1078.7,625.5 1084.1,633.1 1088.0,640.0 C1091.9,646.9 1095.5,654.1 1098.0,660.8 C1100.5,667.5 1101.5,671.8 1103.0,680.0 C1104.5,688.2 1104.5,702.0 1107.0,710.0 C1109.5,718.0 1114.3,719.8 1117.8,728.0 C1121.2,736.2 1124.0,748.0 1127.7,759.4 C1131.4,770.8 1135.9,782.9 1140.1,796.6 C1144.3,810.4 1148.9,828.1 1153.1,841.9 C1157.3,855.7 1160.8,869.1 1165.2,879.2 C1169.6,889.3 1175.6,897.9 1179.2,902.5 C1182.8,907.1 1185.8,906.3 1187.1,907.1" stroke-width="2.0"/>
<path d="M1276.0,832.0 C1278.5,827.4 1284.9,817.8 1290.8,804.6 C1296.7,791.4 1305.6,769.6 1311.5,752.8 C1317.4,736.0 1321.4,716.1 1326.0,704.0 C1330.6,691.9 1335.9,688.6 1339.0,680.0 C1342.1,671.4 1343.5,661.2 1344.7,652.5 C1345.9,643.8 1346.8,637.4 1346.4,627.7 C1346.0,618.0 1344.5,601.2 1342.3,594.5 C1340.1,587.8 1335.8,588.2 1333.2,587.5 C1330.6,586.8 1330.5,587.7 1326.5,590.4 C1322.5,593.1 1313.8,598.8 1309.2,603.6 C1304.7,608.4 1303.1,613.3 1299.2,619.4 C1295.3,625.5 1289.9,633.1 1286.0,640.0 C1282.1,646.9 1278.5,654.1 1276.0,660.8 C1273.5,667.5 1272.5,671.8 1271.0,680.0 C1269.5,688.2 1269.5,702.0 1267.0,710.0 C1264.5,718.0 1259.7,719.8 1256.2,728.0 C1252.8,736.2 1250.0,748.0 1246.3,759.4 C1242.6,770.8 1238.1,782.9 1233.9,796.6 C1229.7,810.4 1225.1,828.1 1220.9,841.9 C1216.7,855.7 1213.2,869.1 1208.8,879.2 C1204.4,889.3 1198.4,897.9 1194.8,902.5 C1191.2,907.1 1188.2,906.3 1186.9,907.1" stroke-width="2.0"/>
<g transform="rotate(-20 1122 829)"><rect x="1111" y="818" width="22" height="22"/></g>
<circle cx="1120.0" cy="828.0" r="10.0"/>
<circle cx="1257.0" cy="828.0" r="8.5"/>
<line x1="1052.9" y1="714.2" x2="1102.0" y2="697.0" stroke-width="2.0"/>
<line x1="1321.1" y1="714.2" x2="1272.0" y2="697.0" stroke-width="2.0"/>
<rect x="1071.2" y="1247.2" width="230.7" height="47.1"/>
<line x1="948.0" y1="1295.5" x2="1425.4" y2="1295.5"/>
<line x1="948.0" y1="1301.2" x2="1425.4" y2="1301.2"/>
<line x1="954.0" y1="1295.5" x2="954.0" y2="1304.0"/>
<path d="M948.0,1301.2 A239.0,239.0 0 0 0 1426.0,1301.2"/>
<path d="M954.3,1301.2 A233.0,233.0 0 1 0 1419.7,1301.2"/>
<path d="M1005.8,1301.2 A181.2,181.2 0 0 0 1368.2,1301.2" stroke-width="2.0"/>
<path d="M1003.3,1301.2 A183.7,183.7 0 0 0 1370.7,1301.2" stroke-width="2.0"/>
<path d="M1000.8,1301.2 A186.2,186.2 0 0 0 1373.2,1301.2" stroke-width="2.0"/>
<path d="M1066.0,1301.2 A121.0,121.0 0 0 0 1308.0,1301.2" stroke-width="2.2"/>
<path d="M1063.5,1301.2 A123.5,123.5 0 0 0 1310.5,1301.2" stroke-width="2.2"/>
<path d="M1061.0,1301.2 A126.0,126.0 0 0 0 1313.0,1301.2" stroke-width="2.2"/>
<g transform="translate(1410.3,1396.6) rotate(-66.50)"><path d="M-46.3,0 L46.3,0 M-46.3,4.2 L46.3,4.2 M-46.3,0 L-46.3,4.2 L-26,19.2 Q0,16.4 26,19.2 L46.3,4.2 L46.3,0"/><rect x="-6" y="-6.5" width="12" height="30" rx="5" fill="#000" stroke="none"/></g>
<g transform="translate(1356.8,1474.1) rotate(-44.20)"><path d="M-46.3,0 L46.3,0 M-46.3,4.2 L46.3,4.2 M-46.3,0 L-46.3,4.2 L-26,19.2 Q0,16.4 26,19.2 L46.3,4.2 L46.3,0"/><rect x="-6" y="-6.5" width="12" height="30" rx="5" fill="#000" stroke="none"/></g>
<g transform="translate(1279.0,1524.9) rotate(-22.20)"><path d="M-46.3,0 L46.3,0 M-46.3,4.2 L46.3,4.2 M-46.3,0 L-46.3,4.2 L-26,19.2 Q0,16.4 26,19.2 L46.3,4.2 L46.3,0"/><rect x="-6" y="-6.5" width="12" height="30" rx="5" fill="#000" stroke="none"/></g>
<g transform="translate(1187.0,1544.5) rotate(0.00)"><path d="M-46.3,0 L46.3,0 M-46.3,4.2 L46.3,4.2 M-46.3,0 L-46.3,4.2 L-26,19.2 Q0,16.4 26,19.2 L46.3,4.2 L46.3,0"/><rect x="-6" y="-6.5" width="12" height="30" rx="5" fill="#000" stroke="none"/></g>
<g transform="translate(1095.0,1524.9) rotate(22.20)"><path d="M-46.3,0 L46.3,0 M-46.3,4.2 L46.3,4.2 M-46.3,0 L-46.3,4.2 L-26,19.2 Q0,16.4 26,19.2 L46.3,4.2 L46.3,0"/><rect x="-6" y="-6.5" width="12" height="30" rx="5" fill="#000" stroke="none"/></g>
<g transform="translate(1017.2,1474.1) rotate(44.20)"><path d="M-46.3,0 L46.3,0 M-46.3,4.2 L46.3,4.2 M-46.3,0 L-46.3,4.2 L-26,19.2 Q0,16.4 26,19.2 L46.3,4.2 L46.3,0"/><rect x="-6" y="-6.5" width="12" height="30" rx="5" fill="#000" stroke="none"/></g>
<g transform="translate(963.7,1396.6) rotate(66.50)"><path d="M-46.3,0 L46.3,0 M-46.3,4.2 L46.3,4.2 M-46.3,0 L-46.3,4.2 L-26,19.2 Q0,16.4 26,19.2 L46.3,4.2 L46.3,0"/><rect x="-6" y="-6.5" width="12" height="30" rx="5" fill="#000" stroke="none"/></g>
<g transform="translate(1372.8,1311.5) rotate(-86.31)"><path d="M-20,0 L20,0 L9.5,13 Q0,11.5 -9.5,13 Z" stroke-width="2.2"/><line x1="0" y1="-5" x2="0" y2="6" stroke-width="2.6"/><circle cx="0" cy="6.5" r="3.6" fill="#000" stroke="none"/></g>
<g transform="translate(1366.0,1350.9) rotate(-73.98)"><path d="M-20,0 L20,0 L9.5,13 Q0,11.5 -9.5,13 Z" stroke-width="2.2"/><line x1="0" y1="-5" x2="0" y2="6" stroke-width="2.6"/><circle cx="0" cy="6.5" r="3.6" fill="#000" stroke="none"/></g>
<g transform="translate(1350.9,1387.9) rotate(-61.65)"><path d="M-20,0 L20,0 L9.5,13 Q0,11.5 -9.5,13 Z" stroke-width="2.2"/><line x1="0" y1="-5" x2="0" y2="6" stroke-width="2.6"/><circle cx="0" cy="6.5" r="3.6" fill="#000" stroke="none"/></g>
<g transform="translate(1328.2,1420.9) rotate(-49.32)"><path d="M-20,0 L20,0 L9.5,13 Q0,11.5 -9.5,13 Z" stroke-width="2.2"/><line x1="0" y1="-5" x2="0" y2="6" stroke-width="2.6"/><circle cx="0" cy="6.5" r="3.6" fill="#000" stroke="none"/></g>
<g transform="translate(1299.0,1448.2) rotate(-36.99)"><path d="M-20,0 L20,0 L9.5,13 Q0,11.5 -9.5,13 Z" stroke-width="2.2"/><line x1="0" y1="-5" x2="0" y2="6" stroke-width="2.6"/><circle cx="0" cy="6.5" r="3.6" fill="#000" stroke="none"/></g>
<g transform="translate(1264.7,1468.7) rotate(-24.66)"><path d="M-20,0 L20,0 L9.5,13 Q0,11.5 -9.5,13 Z" stroke-width="2.2"/><line x1="0" y1="-5" x2="0" y2="6" stroke-width="2.6"/><circle cx="0" cy="6.5" r="3.6" fill="#000" stroke="none"/></g>
<g transform="translate(1226.8,1481.4) rotate(-12.33)"><path d="M-20,0 L20,0 L9.5,13 Q0,11.5 -9.5,13 Z" stroke-width="2.2"/><line x1="0" y1="-5" x2="0" y2="6" stroke-width="2.6"/><circle cx="0" cy="6.5" r="3.6" fill="#000" stroke="none"/></g>
<g transform="translate(1187.0,1485.7) rotate(0.00)"><path d="M-20,0 L20,0 L9.5,13 Q0,11.5 -9.5,13 Z" stroke-width="2.2"/><line x1="0" y1="-5" x2="0" y2="6" stroke-width="2.6"/><circle cx="0" cy="6.5" r="3.6" fill="#000" stroke="none"/></g>
<g transform="translate(1147.2,1481.4) rotate(12.33)"><path d="M-20,0 L20,0 L9.5,13 Q0,11.5 -9.5,13 Z" stroke-width="2.2"/><line x1="0" y1="-5" x2="0" y2="6" stroke-width="2.6"/><circle cx="0" cy="6.5" r="3.6" fill="#000" stroke="none"/></g>
<g transform="translate(1109.3,1468.7) rotate(24.66)"><path d="M-20,0 L20,0 L9.5,13 Q0,11.5 -9.5,13 Z" stroke-width="2.2"/><line x1="0" y1="-5" x2="0" y2="6" stroke-width="2.6"/><circle cx="0" cy="6.5" r="3.6" fill="#000" stroke="none"/></g>
<g transform="translate(1075.0,1448.2) rotate(36.99)"><path d="M-20,0 L20,0 L9.5,13 Q0,11.5 -9.5,13 Z" stroke-width="2.2"/><line x1="0" y1="-5" x2="0" y2="6" stroke-width="2.6"/><circle cx="0" cy="6.5" r="3.6" fill="#000" stroke="none"/></g>
<g transform="translate(1045.8,1420.9) rotate(49.32)"><path d="M-20,0 L20,0 L9.5,13 Q0,11.5 -9.5,13 Z" stroke-width="2.2"/><line x1="0" y1="-5" x2="0" y2="6" stroke-width="2.6"/><circle cx="0" cy="6.5" r="3.6" fill="#000" stroke="none"/></g>
<g transform="translate(1023.1,1387.9) rotate(61.65)"><path d="M-20,0 L20,0 L9.5,13 Q0,11.5 -9.5,13 Z" stroke-width="2.2"/><line x1="0" y1="-5" x2="0" y2="6" stroke-width="2.6"/><circle cx="0" cy="6.5" r="3.6" fill="#000" stroke="none"/></g>
<g transform="translate(1008.0,1350.9) rotate(73.98)"><path d="M-20,0 L20,0 L9.5,13 Q0,11.5 -9.5,13 Z" stroke-width="2.2"/><line x1="0" y1="-5" x2="0" y2="6" stroke-width="2.6"/><circle cx="0" cy="6.5" r="3.6" fill="#000" stroke="none"/></g>
<g transform="translate(1001.2,1311.5) rotate(86.31)"><path d="M-20,0 L20,0 L9.5,13 Q0,11.5 -9.5,13 Z" stroke-width="2.2"/><line x1="0" y1="-5" x2="0" y2="6" stroke-width="2.6"/><circle cx="0" cy="6.5" r="3.6" fill="#000" stroke="none"/></g>
<g transform="translate(1312.9,1305.5) rotate(-87.25)"><path d="M-18.6,0 L18.6,0 L9.4,12 Q0,10.5 -9.4,12 Z" stroke-width="2.2"/><line x1="0" y1="-9" x2="0" y2="4" stroke-width="2.6"/><circle cx="0" cy="5" r="3.5" fill="#000" stroke="none"/></g>
<g transform="translate(1305.3,1343.0) rotate(-69.80)"><path d="M-18.6,0 L18.6,0 L9.4,12 Q0,10.5 -9.4,12 Z" stroke-width="2.2"/><line x1="0" y1="-9" x2="0" y2="4" stroke-width="2.6"/><circle cx="0" cy="5" r="3.5" fill="#000" stroke="none"/></g>
<g transform="translate(1286.8,1376.5) rotate(-52.35)"><path d="M-18.6,0 L18.6,0 L9.4,12 Q0,10.5 -9.4,12 Z" stroke-width="2.2"/><line x1="0" y1="-9" x2="0" y2="4" stroke-width="2.6"/><circle cx="0" cy="5" r="3.5" fill="#000" stroke="none"/></g>
<g transform="translate(1259.1,1402.8) rotate(-34.90)"><path d="M-18.6,0 L18.6,0 L9.4,12 Q0,10.5 -9.4,12 Z" stroke-width="2.2"/><line x1="0" y1="-9" x2="0" y2="4" stroke-width="2.6"/><circle cx="0" cy="5" r="3.5" fill="#000" stroke="none"/></g>
<g transform="translate(1224.8,1419.7) rotate(-17.45)"><path d="M-18.6,0 L18.6,0 L9.4,12 Q0,10.5 -9.4,12 Z" stroke-width="2.2"/><line x1="0" y1="-9" x2="0" y2="4" stroke-width="2.6"/><circle cx="0" cy="5" r="3.5" fill="#000" stroke="none"/></g>
<g transform="translate(1187.0,1425.5) rotate(0.00)"><path d="M-18.6,0 L18.6,0 L9.4,12 Q0,10.5 -9.4,12 Z" stroke-width="2.2"/><line x1="0" y1="-9" x2="0" y2="4" stroke-width="2.6"/><circle cx="0" cy="5" r="3.5" fill="#000" stroke="none"/></g>
<g transform="translate(1149.2,1419.7) rotate(17.45)"><path d="M-18.6,0 L18.6,0 L9.4,12 Q0,10.5 -9.4,12 Z" stroke-width="2.2"/><line x1="0" y1="-9" x2="0" y2="4" stroke-width="2.6"/><circle cx="0" cy="5" r="3.5" fill="#000" stroke="none"/></g>
<g transform="translate(1114.9,1402.8) rotate(34.90)"><path d="M-18.6,0 L18.6,0 L9.4,12 Q0,10.5 -9.4,12 Z" stroke-width="2.2"/><line x1="0" y1="-9" x2="0" y2="4" stroke-width="2.6"/><circle cx="0" cy="5" r="3.5" fill="#000" stroke="none"/></g>
<g transform="translate(1087.2,1376.5) rotate(52.35)"><path d="M-18.6,0 L18.6,0 L9.4,12 Q0,10.5 -9.4,12 Z" stroke-width="2.2"/><line x1="0" y1="-9" x2="0" y2="4" stroke-width="2.6"/><circle cx="0" cy="5" r="3.5" fill="#000" stroke="none"/></g>
<g transform="translate(1068.7,1343.0) rotate(69.80)"><path d="M-18.6,0 L18.6,0 L9.4,12 Q0,10.5 -9.4,12 Z" stroke-width="2.2"/><line x1="0" y1="-9" x2="0" y2="4" stroke-width="2.6"/><circle cx="0" cy="5" r="3.5" fill="#000" stroke="none"/></g>
<g transform="translate(1061.1,1305.5) rotate(87.25)"><path d="M-18.6,0 L18.6,0 L9.4,12 Q0,10.5 -9.4,12 Z" stroke-width="2.2"/><line x1="0" y1="-9" x2="0" y2="4" stroke-width="2.6"/><circle cx="0" cy="5" r="3.5" fill="#000" stroke="none"/></g>
<rect x="1099.6" y="1296.2" width="22.8" height="67.0"/>
<circle cx="1111.0" cy="1343.3" r="28.1"/>
<line x1="1091.1" y1="1323.4" x2="1130.9" y2="1363.2"/>
<line x1="1091.1" y1="1363.2" x2="1130.9" y2="1323.4"/>
<rect x="1175.4" y="1296.2" width="22.8" height="67.0"/>
<circle cx="1186.8" cy="1343.3" r="28.1"/>
<line x1="1166.9" y1="1323.4" x2="1206.7" y2="1363.2"/>
<line x1="1166.9" y1="1363.2" x2="1206.7" y2="1323.4"/>
<rect x="1251.0" y="1296.2" width="22.8" height="67.0"/>
<circle cx="1262.4" cy="1343.3" r="28.1"/>
<line x1="1242.5" y1="1323.4" x2="1282.3" y2="1363.2"/>
<line x1="1242.5" y1="1363.2" x2="1282.3" y2="1323.4"/>
<polygon points="944.4,1264.5 948.0,1264.5 948.0,1356.0 927.2,1337.8 928.0,1316.0 927.2,1283.5" stroke-width="2.4"/>
<line x1="944.4" y1="1264.5" x2="944.4" y2="1356.0"/>
<rect x="925" y="1304.9" width="29.5" height="11.9" rx="5.5" fill="#000" stroke="none"/>
<polygon points="1430.0,1258.0 1425.4,1258.0 1425.4,1349.6 1431.8,1348.7 1447.0,1330.6 1446.3,1298.0 1446.3,1277.0" stroke-width="2.4"/>
<line x1="1430.0" y1="1258.0" x2="1430.0" y2="1349.0"/>
<rect x="1420" y="1297" width="28" height="12.5" rx="5.5" fill="#000" stroke="none"/>
</g>
</svg>
</body></html>
